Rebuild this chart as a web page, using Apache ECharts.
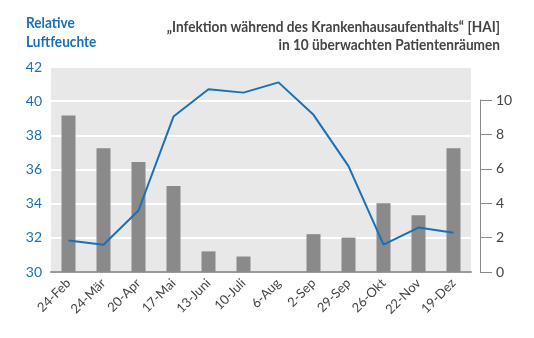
<!DOCTYPE html>
<html><head><meta charset="utf-8">
<script src="https://cdn.jsdelivr.net/npm/echarts@6/dist/echarts.min.js"></script>
<style>html,body{margin:0;padding:0;background:#fff}#c{width:534px;height:338px}</style>
</head><body><div id="c"></div>
<script>
var categories = ['24-Feb','24-Mär','20-Apr','17-Mai','13-Juni','10-Juli','6-Aug','2-Sep','29-Sep','26-Okt','22-Nov','19-Dez'];
var humidity = [31.85,31.6,33.6,39.1,40.7,40.5,41.1,39.2,36.2,31.6,32.6,32.3];
var hai = [9.1,7.2,6.4,5.0,1.2,0.9,0,2.2,2.0,4.0,3.3,7.2];
var leftTicks = [30,32,34,36,38,40,42];
var rightTicks = [0,2,4,6,8,10];
var titleLeft = ['Relative','Luftfeuchte'];
var titleRight = ['„Infektion während des Krankenhausaufenthalts“ [HAI]','in 10 überwachten Patientenräumen'];

var font = 'Lato';
var chart = echarts.init(document.getElementById('c'), null, {renderer:'canvas'});
function txt(t, x, y, align, color){
  return {type:'text', x:x, y:y, scaleX:0.91, style:{text:t, textAlign:align, textVerticalAlign:'bottom', fill:color,
    font:'bold 15px ' + font}};
}
chart.setOption({
  animation:false,
  graphic:[
    txt(titleLeft[0], 26, 31, 'left', '#1a6fb8'),
    txt(titleLeft[1], 26, 50, 'left', '#1a6fb8'),
    txt(titleRight[0], 500, 35, 'right', '#444'),
    txt(titleRight[1], 500, 53, 'right', '#444')
  ],
  grid:[
    {left:51, right:63, top:67, bottom:66, show:true, backgroundColor:'#e8e8e8', borderWidth:0},
    {left:51, right:63, top:100, bottom:66, show:false}
  ],
  xAxis:[
    {type:'category', gridIndex:0, data:categories,
     axisLine:{lineStyle:{color:'#9a9a9a', width:2}}, axisTick:{show:false},
     axisLabel:{rotate:45, color:'#444', fontFamily:font, fontSize:13, margin:9}},
    {type:'category', gridIndex:1, data:categories, show:false}
  ],
  yAxis:[
    {type:'value', gridIndex:0, position:'left', min:leftTicks[0], max:leftTicks[leftTicks.length-1], interval:2,
     axisLine:{show:false}, axisTick:{show:false},
     axisLabel:{color:'#1a6fb8', fontFamily:font, fontSize:14, margin:9},
     splitLine:{lineStyle:{color:'#ffffff', width:2}}},
    {type:'value', gridIndex:1, position:'right', offset:9, min:rightTicks[0], max:rightTicks[rightTicks.length-1], interval:2,
     axisLine:{show:true, lineStyle:{color:'#8a8a8a', width:1}},
     axisTick:{show:true, length:12, lineStyle:{color:'#8a8a8a'}},
     axisLabel:{color:'#444', fontFamily:font, fontSize:14, margin:16},
     splitLine:{show:false}}
  ],
  series:[
    {type:'bar', xAxisIndex:1, yAxisIndex:1, data:hai, barWidth:14,
     itemStyle:{color:'#8a8a8a'}},
    {type:'line', xAxisIndex:0, yAxisIndex:0, data:humidity, symbol:'none',
     lineStyle:{color:'#1a6fb8', width:2}, z:5}
  ]
});
</script></body></html>
